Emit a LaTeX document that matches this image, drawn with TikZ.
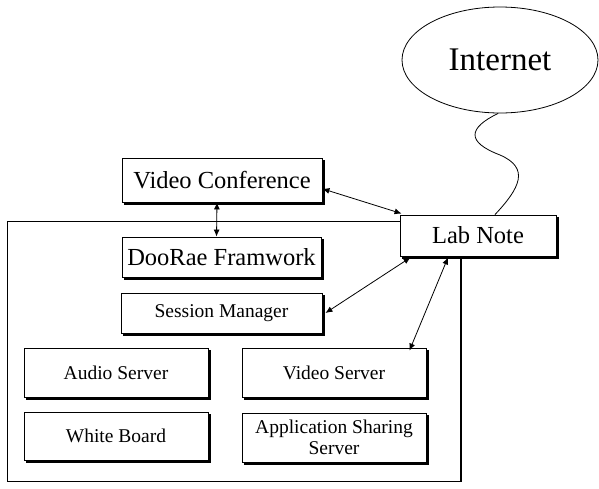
\documentclass[tikz,border=0pt]{standalone}
\usepackage{fontspec}
\setmainfont{Liberation Serif}
\usetikzlibrary{shapes.geometric,arrows.meta,calc}
\begin{document}
\begin{tikzpicture}[x=1pt,y=-1pt,
  box/.style={draw, fill=white, line width=0.9pt, inner sep=0pt, align=center},
  big/.style={font=\fontsize{24.5}{26}\selectfont},
  small/.style={font=\fontsize{19.5}{21}\selectfont},
  shadowline/.style={line width=2.8pt},
  conn/.style={line width=0.8pt, {Latex[length=7pt,width=6pt]}-{Latex[length=7pt,width=6pt]}}]
\useasboundingbox (0,0) rectangle (599,488);
% frame
\draw[line width=1pt] (7,221) rectangle (461,481);
\draw[line width=2.8pt] (461,221) -- (461,481);
% internet
\node[draw, ellipse, line width=0.8pt, minimum width=196, minimum height=106, font=\fontsize{33}{35}\selectfont] (inet) at (500,60) {Internet};
% boxes
\node[box, big, minimum width=200, minimum height=44] (vc) at (222,180) {Video Conference};
\node[box, big, minimum width=199, minimum height=40] (df) at (221.5,257) {DooRae Framwork};
\node[box, small, minimum width=201, minimum height=40] (sm) at (221.5,313) {Session Manager};
\node[box, small, minimum width=184, minimum height=49] (as) at (116,372.5) {Audio Server};
\node[box, small, minimum width=184, minimum height=49] (vs) at (334,372.5) {Video Server};
\node[box, small, minimum width=184, minimum height=48] (wb) at (116,436) {White Board};
\node[box, small, minimum width=184, minimum height=49] (app) at (334,437.5) {Application Sharing\\Server};
\node[box, big, minimum width=156, minimum height=41] (ln) at (478,235.5) {Lab Note};
% shadows
\foreach \nn in {vc,df,sm,as,vs,wb,app,ln}{
  \draw[shadowline] ($(\nn.south west)+(2,1)$) -- ($(\nn.south east)+(1,1)$) -- ($(\nn.north east)+(1,2)$);
}
% connectors
\draw[conn] (vc.-5) -- ($(ln.north west)+(2,-1)$);
\draw[conn] ($(vc.south)+(-5,0)$) -- ($(df.north)+(-5,0)$);
\draw[conn] ($(sm.east)+(3,0)$) -- ($(ln.south west)+(11,1)$);
\draw[conn] ($(vs.north east)+(-17,3)$) -- ($(ln.south)+(-30,1)$);
\draw[line width=0.8pt] (inet.268) .. controls (468,128) and (466,142) .. (500,155)
  .. controls (530,168) and (520,188) .. ($(ln.north)+(17,0)$);
\end{tikzpicture}
\end{document}
